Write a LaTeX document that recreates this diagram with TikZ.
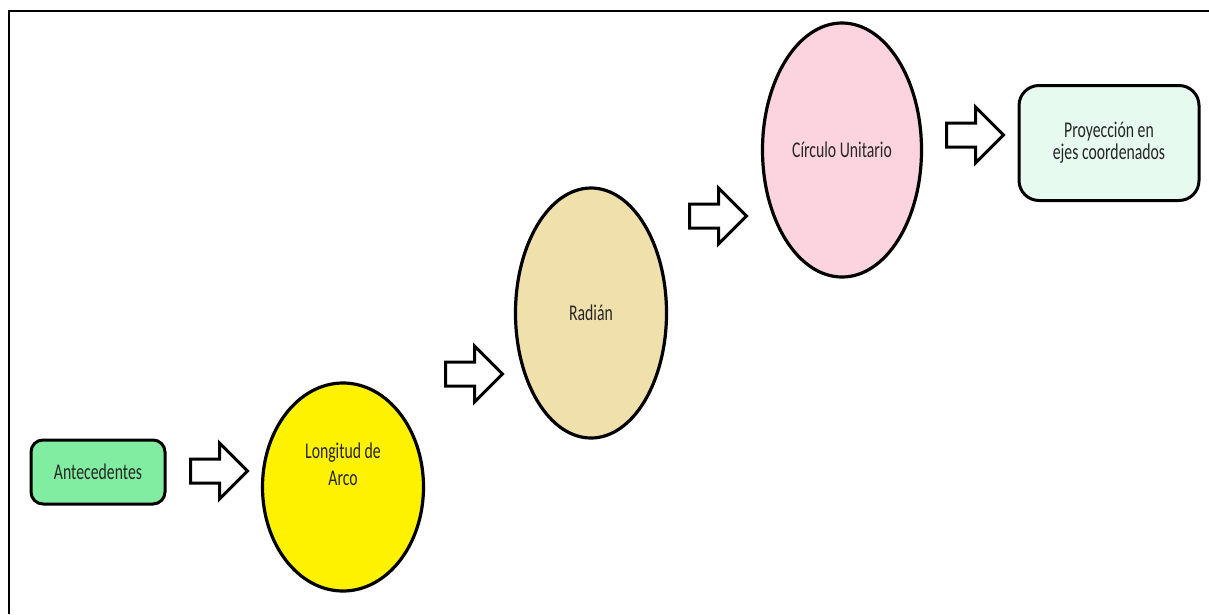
\documentclass[tikz,border=0pt]{standalone}
\usepackage{fontspec}
\setmainfont{Carlito}
\newfontfamily\labelfont{Carlito}[FakeStretch=0.7]
\usetikzlibrary{shapes.geometric,shapes.arrows}
\definecolor{antfill}{HTML}{80EDA0}
\definecolor{lonfill}{HTML}{FFF200}
\definecolor{radfill}{HTML}{EFE0AC}
\definecolor{cirfill}{HTML}{FCD4DF}
\definecolor{proyfill}{HTML}{E6FAF0}
\definecolor{txtgray}{HTML}{262626}
\tikzset{
  lbl/.style={text=txtgray, font=\labelfont\fontsize{22.5}{22}\selectfont, align=center},
  box/.style={lbl, draw=black, line width=3pt, rounded corners=#1, inner sep=0pt},
  oval/.style={lbl, draw=black, line width=3.2pt, ellipse, inner sep=0pt},
  txt/.style={lbl, inner sep=0pt},
  blockarrow/.style={single arrow, draw=black, fill=white, line width=3pt,
    minimum height=57pt, single arrow head extend=16pt, inner sep=10.5pt,
    single arrow tip angle=90, outer sep=0pt},
  frameline/.style={line width=2.5pt, draw=black}
}
\begin{document}
\begin{tikzpicture}[x=1pt,y=-1pt]
  \useasboundingbox (0,0) rectangle (1209,614);
  % frame edges
  \coordinate (ftr) at (1209,11);
  \coordinate (ftl) at (9,11);
  \coordinate (fbl) at (9,614);
  \draw[frameline] (ftr) -- (ftl) -- (fbl);

  % stages
  \node[box=12pt, fill=antfill, minimum width=134pt, minimum height=64pt]
    (ant) at (98,472) {Antecedentes};
  \node[oval, fill=lonfill, minimum width=161pt, minimum height=208pt]
    (lon) at (343,487) {};
  \node[txt, font=\labelfont\fontsize{22.5}{27}\selectfont] (lontxt)
    at ([yshift=23pt]lon.center) {Longitud de\\Arco};
  \node[oval, fill=radfill, minimum width=151pt, minimum height=250pt]
    (rad) at (591,313) {Radián};
  \node[oval, fill=cirfill, minimum width=159pt, minimum height=254pt]
    (cir) at (842,150) {Círculo Unitario};
  \node[box=20pt, fill=proyfill, minimum width=180pt, minimum height=115pt]
    (proy) at (1109,143) {Proyección en\\ejes coordenados};

  % block arrows between stages
  \node[blockarrow] (a1) at (213,471) {};
  \node[blockarrow] (a2) at (468,374) {};
  \node[blockarrow] (a3) at (712,216) {};
  \node[blockarrow] (a4) at (969,135) {};
\end{tikzpicture}
\end{document}
